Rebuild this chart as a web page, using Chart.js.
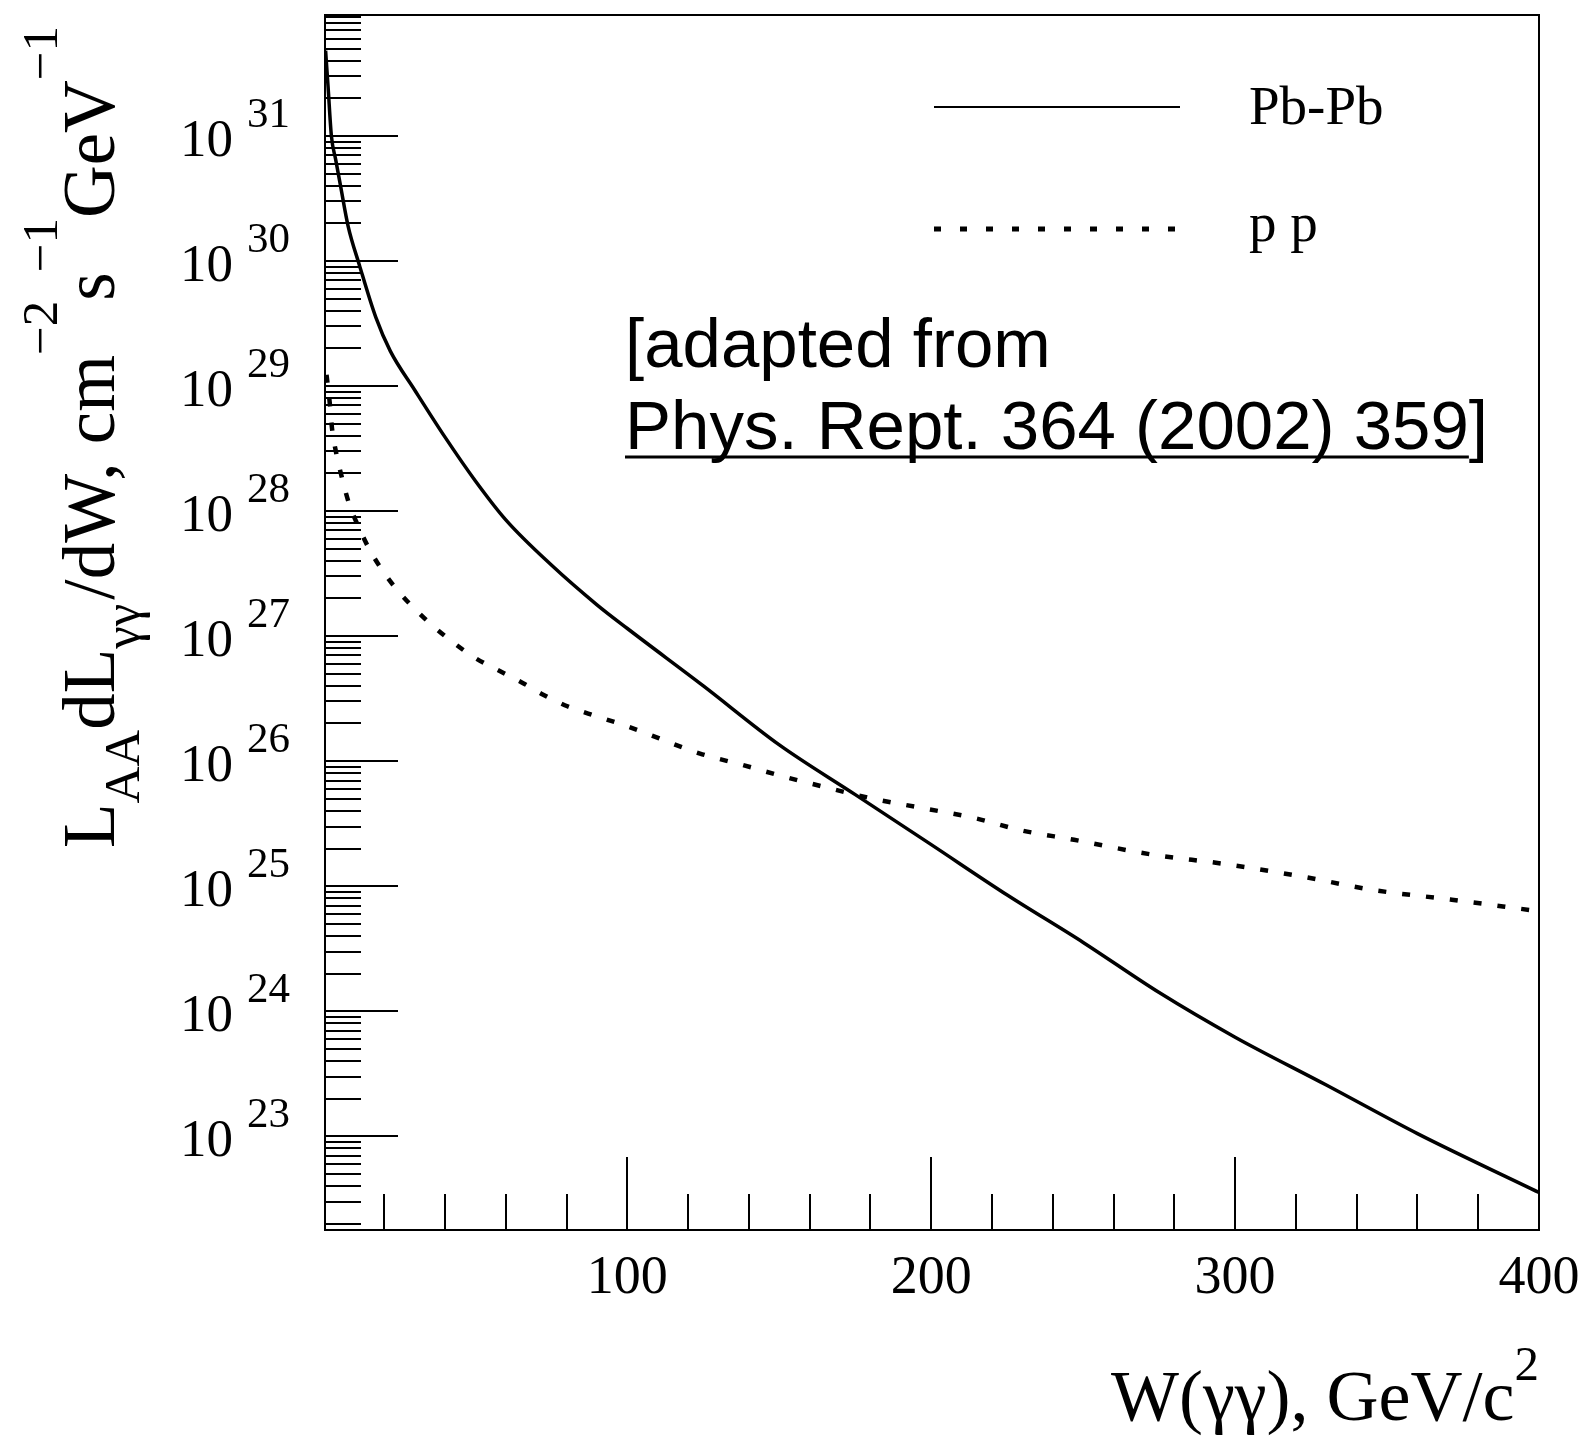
<!DOCTYPE html>
<html>
<head>
<meta charset="utf-8">
<script src="https://cdn.jsdelivr.net/npm/chart.js@4.4.1/dist/chart.umd.min.js"></script>
<style>
  html, body { margin: 0; padding: 0; background: #fff; }
  #wrap { width: 1584px; height: 1441px; }
</style>
</head>
<body>
<div id="wrap"><canvas id="lumiChart" width="1584" height="1441"></canvas></div>
<script>
// W(gamma gamma) in GeV/c^2 and dL/dW in cm^-2 s^-1 GeV^-1
const pbpbW = [0.7, 1.5, 2.6, 4, 5.6, 8.1, 11.8, 17.2, 22, 30, 40, 50, 60, 75, 90, 100,
  125, 150, 175, 200, 225, 250, 275, 300, 330, 360, 400];
const pbpbLumi = [4.8e31, 2.5e31, 1.0e31, 6.5e30, 4.0e30, 1.9e30, 9.3e29, 3.55e29, 1.9e29,
  9.3e28, 3.9e28, 1.74e28, 8.5e27, 3.7e27, 1.78e27, 1.15e27, 4.0e26, 1.35e26, 5.4e25,
  2.15e25, 8.5e24, 3.55e24, 1.41e24, 6.2e23, 2.57e23, 1.05e23, 3.55e22];

const ppW = [1.0, 2.0, 2.8, 4.2, 6.2, 8.4, 11.4, 15.2, 19.4, 24.5, 30.6, 36.1, 43.2, 50.3, 58,
  65.7, 72.3, 79.4, 87.1, 100, 123.9, 138.1, 149.1, 165, 181, 197.4, 214.4, 229.5, 247, 272,
  297, 321.5, 345.8, 371.3, 400];
const ppLumi = [1.23e29, 7.6e28, 4.6e28, 2.9e28, 1.8e28, 1.15e28, 7.6e27, 4.9e27, 3.35e27,
  2.3e27, 1.6e27, 1.2e27, 8.7e26, 6.6e26, 5.25e26, 4.2e26, 3.4e26, 2.8e26, 2.4e26, 1.9e26,
  1.15e26, 9.3e25, 7.8e25, 6.2e25, 5.0e25, 4.2e25, 3.5e25, 2.8e25, 2.35e25, 1.8e25, 1.5e25,
  1.2e25, 9.3e24, 7.8e24, 6.3e24];

const seriesNames = ['Pb-Pb', 'p p'];
const xTickLabels = ['100', '200', '300', '400'];
const yTickExponents = [23, 24, 25, 26, 27, 28, 29, 30, 31];
const noteLines = ['[adapted from', 'Phys. Rept. 364 (2002) 359', ']'];

const SERIF = '"Liberation Serif", "Times New Roman", serif';
const SANS = '"Liberation Sans", Arial, sans-serif';

function toPoints(xs, ys) {
  return xs.map((x, i) => ({ x: x, y: ys[i] }));
}

function piecesWidth(ctx, pieces) {
  let w = 0;
  pieces.forEach(p => {
    ctx.font = p.size + 'px ' + SERIF;
    w += ctx.measureText(p.text).width + (p.gap || 0);
  });
  return w;
}

// text with sub/superscripts, written left to right starting at x
function drawPieces(ctx, pieces, x, y) {
  ctx.textAlign = 'left';
  ctx.textBaseline = 'alphabetic';
  pieces.forEach(p => {
    ctx.font = p.size + 'px ' + SERIF;
    ctx.fillText(p.text, x, y + (p.dy || 0));
    x += ctx.measureText(p.text).width + (p.gap || 0);
  });
}

const xTitle = [
  { text: 'W(\u03b3\u03b3), GeV/c', size: 72 },
  { text: '2', size: 49, dy: -40 }
];
const yTitle = [
  { text: 'L', size: 73 },
  { text: 'AA', size: 51, dy: 25 },
  { text: 'dL', size: 73 },
  { text: '\u03b3\u03b3', size: 51, dy: 25, gap: 4 },
  { text: '/dW, cm', size: 73 },
  { text: '\u22122', size: 51, dy: -57 },
  { text: 's', size: 73 },
  { text: '\u22121', size: 51, dy: -57 },
  { text: 'GeV', size: 73 },
  { text: '\u22121', size: 51, dy: -57 }
];

const rootFrame = {
  id: 'rootFrame',
  afterDraw(chart) {
    const { ctx, chartArea: a, scales: { x, y } } = chart;
    ctx.save();
    ctx.strokeStyle = '#000';
    ctx.fillStyle = '#000';
    ctx.lineWidth = 2;
    ctx.setLineDash([]);
    ctx.strokeRect(a.left, a.top, a.right - a.left, a.bottom - a.top);

    // log ticks on the left axis
    ctx.beginPath();
    for (let e = 22; e <= 31; e++) {
      for (let k = 1; k <= 9; k++) {
        const v = k * Math.pow(10, e);
        if (v < y.min || v > y.max) continue;
        const py = Math.round(y.getPixelForValue(v));
        const len = k === 1 ? 73 : 36;
        ctx.moveTo(a.left, py);
        ctx.lineTo(a.left + len, py);
      }
    }
    // linear ticks on the bottom axis
    for (let v = 20; v < 400; v += 20) {
      const px = Math.round(x.getPixelForValue(v));
      const len = v % 100 === 0 ? 73 : 36;
      ctx.moveTo(px, a.bottom);
      ctx.lineTo(px, a.bottom - len);
    }
    ctx.stroke();

    // y tick labels 10^n
    ctx.textBaseline = 'alphabetic';
    yTickExponents.forEach(n => {
      const py = y.getPixelForValue(Math.pow(10, n));
      ctx.font = '53px ' + SERIF;
      ctx.textAlign = 'right';
      ctx.fillText('10', 233, py + 20);
      ctx.font = '43px ' + SERIF;
      ctx.textAlign = 'left';
      ctx.fillText(String(n), 247, py - 9);
    });

    // x tick labels
    ctx.font = '54px ' + SERIF;
    ctx.textAlign = 'center';
    xTickLabels.forEach(t => {
      ctx.fillText(t, x.getPixelForValue(Number(t)), 1293);
    });

    // axis titles
    const xw = piecesWidth(ctx, xTitle);
    drawPieces(ctx, xTitle, a.right - xw, 1420);

    const yw = piecesWidth(ctx, yTitle);
    ctx.save();
    ctx.translate(114, 437);
    ctx.rotate(-Math.PI / 2);
    drawPieces(ctx, yTitle, -yw / 2, 0);
    ctx.restore();

    // legend
    const rows = [107, 229];
    chart.data.datasets.forEach((ds, i) => {
      ctx.beginPath();
      ctx.lineWidth = i === 0 ? 2 : 5;
      ctx.setLineDash(i === 0 ? [] : [7, 19]);
      ctx.moveTo(934, rows[i]);
      ctx.lineTo(1180, rows[i]);
      ctx.stroke();
    });
    ctx.setLineDash([]);
    ctx.font = '55px ' + SERIF;
    ctx.textAlign = 'left';
    ctx.fillText(seriesNames[0], 1249, 124);
    ctx.fillText(seriesNames[1], 1249, 241);

    // reference note
    ctx.font = '69px ' + SANS;
    ctx.fillText(noteLines[0], 625, 367);
    ctx.fillText(noteLines[1], 625, 449);
    const uw = ctx.measureText(noteLines[1]).width;
    ctx.fillText(noteLines[2], 625 + uw, 449);
    ctx.lineWidth = 3;
    ctx.beginPath();
    ctx.moveTo(625, 457);
    ctx.lineTo(625 + uw, 457);
    ctx.stroke();
    ctx.restore();
  }
};

new Chart(document.getElementById('lumiChart').getContext('2d'), {
  type: 'line',
  data: {
    datasets: [
      {
        label: seriesNames[0],
        data: toPoints(pbpbW, pbpbLumi),
        borderColor: '#000',
        borderWidth: 3.5,
        cubicInterpolationMode: 'monotone',
        pointRadius: 0
      },
      {
        label: seriesNames[1],
        data: toPoints(ppW, ppLumi),
        borderColor: '#000',
        borderWidth: 4.5,
        borderDash: [8, 16],
        cubicInterpolationMode: 'monotone',
        pointRadius: 0
      }
    ]
  },
  options: {
    responsive: false,
    animation: false,
    layout: { padding: { left: 325, top: 15, right: 45, bottom: 211 } },
    plugins: { legend: { display: false }, tooltip: { enabled: false } },
    scales: {
      x: { type: 'linear', min: 0.5, max: 400, display: false },
      y: { type: 'logarithmic', min: 1.78e22, max: 9.27e31, display: false }
    }
  },
  plugins: [rootFrame]
});
</script>
</body>
</html>
